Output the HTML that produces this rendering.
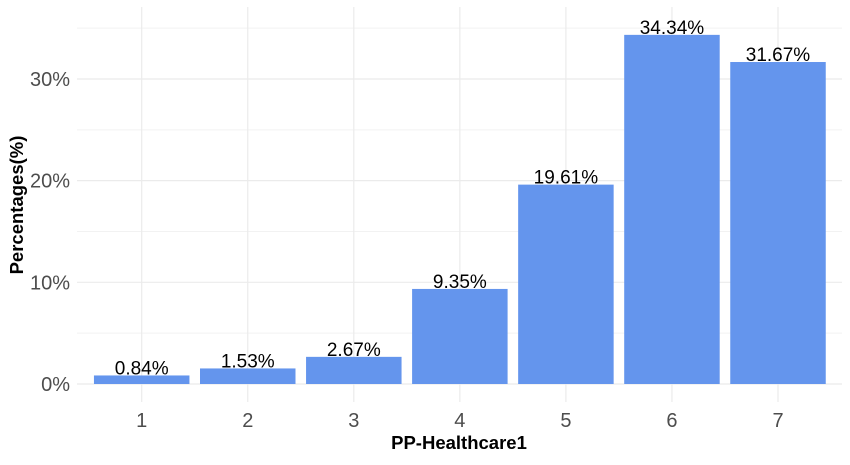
<!DOCTYPE html>
<html><head><meta charset="utf-8"><style>
body{margin:0;background:#fff;width:850px;height:460px;overflow:hidden}
text{font-family:"Liberation Sans",Arial,sans-serif}
</style></head><body>
<svg id="chart" width="850" height="460" xmlns="http://www.w3.org/2000/svg">
<g id="grid"></g>
<g id="bars"></g>
<g id="labels"></g>
<g id="yt"></g>
<g id="xt"></g>
<text x="459" y="449" text-anchor="middle" font-size="18.5" font-weight="bold">PP-Healthcare1</text>
<text transform="translate(23,205) rotate(-90)" text-anchor="middle" font-size="18.5" font-weight="bold">Percentages(%)</text>
</svg>
<script>
const categories=["1","2","3","4","5","6","7"];
const values=[0.84,1.53,2.67,9.35,19.61,34.34,31.67];
const yTicks=[0,10,20,30];
const yMinor=[5,15,25,35];
const NS="http://www.w3.org/2000/svg";
const L=77,R=842,T=7,B=402;
const x=i=>141.7+i*106.05;
const y=v=>384-v*10.167;
const bw=95.5;
function mk(p,tag,a){const e=document.createElementNS(NS,tag);for(const k in a)e.setAttribute(k,a[k]);document.getElementById(p).appendChild(e);return e;}
yMinor.forEach(v=>{const e=mk('grid','line',{x1:L,x2:R,y1:y(v),y2:y(v),stroke:'#f2f2f2','stroke-width':1});

});
yTicks.forEach(v=>{const e=mk('grid','line',{x1:L,x2:R,y1:y(v),y2:y(v),stroke:'#ebebeb','stroke-width':1.2});


const t=mk('yt','text',{x:70,y:y(v)+7,'text-anchor':'end','font-size':20,fill:'#4d4d4d'});t.textContent=v+'%';

});
categories.forEach((c,i)=>{const g=mk('grid','line',{x1:x(i),x2:x(i),y1:T,y2:B,stroke:'#ebebeb','stroke-width':1.2});


const b=mk('bars','rect',{x:x(i)-bw/2,y:y(values[i]),width:bw,height:y(0)-y(values[i]),fill:'#6495ED'});


const l=mk('labels','text',{x:x(i),y:y(values[i])-1,'text-anchor':'middle','font-size':19,fill:'#000'});l.textContent=values[i].toFixed(2)+'%';


const t=mk('xt','text',{x:x(i),y:427,'text-anchor':'middle','font-size':20,fill:'#4d4d4d'});t.textContent=c;

});
</script>
</body></html>
